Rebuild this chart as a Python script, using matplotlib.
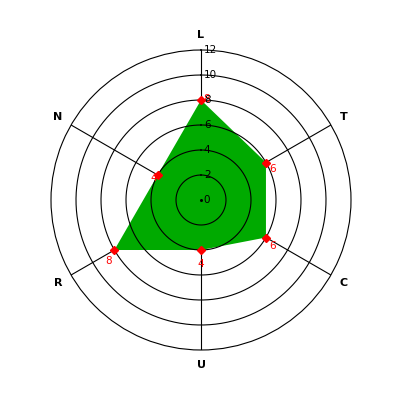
import numpy as np
import matplotlib
matplotlib.use("Agg")
import matplotlib.pyplot as plt

categories = ["L", "T", "C", "U", "R", "N"]
values = [8, 6, 6, 4, 8, 4]
rticks = [0, 2, 4, 6, 8, 10, 12]
rmax = 12

fig = plt.figure(figsize=(4, 4), dpi=100)
ax = fig.add_axes([0.1275, 0.125, 0.75, 0.75], projection="polar")
ax.set_theta_zero_location("N")
ax.set_theta_direction(-1)
ax.set_ylim(0, rmax)

n = len(categories)
angles = np.arange(n) * 2 * np.pi / n

# grid
ax.grid(False)
ax.set_xticks([])
ax.set_yticks([])
ax.spines["polar"].set_color("black")
ax.spines["polar"].set_linewidth(0.8)
th = np.linspace(0, 2 * np.pi, 400)
for r in rticks[1:-1]:
    ax.plot(th, np.full_like(th, r), color="black", lw=0.8, zorder=3)
for a in angles:
    ax.plot([a, a], [0, rmax], color="black", lw=0.8, zorder=1)
ax.plot([0], [0], marker="o", ms=1.2, color="black", zorder=3)

# data polygon
ang_c = np.append(angles, angles[0])
val_c = np.append(values, values[0])
ax.fill(ang_c, val_c, color="#00AA00", zorder=2, lw=0)
ax.plot(angles, values, linestyle="none", marker="D", color="red", ms=4, zorder=4)

# value labels
offsets = [(4, 1), (5, -5), (5, -6), (0, -10), (-4, -8), (-3, -2)]
for a, v, off in zip(angles, values, offsets):
    ax.annotate(str(v), (a, v), xytext=off, textcoords="offset points",
                color="red", fontsize=7.5, ha="center", va="center", zorder=5)

# radial labels
for r in rticks:
    ax.annotate(str(r), (0, r), xytext=(2, 0), textcoords="offset points",
                color="black", fontsize=7.5, ha="left", va="center", zorder=6)

# category labels
for a, c in zip(angles, categories):
    ax.text(a, 13.2, c, fontsize=8, fontweight="bold", ha="center", va="center")

fig.savefig("out.png", dpi=100, facecolor="white")
